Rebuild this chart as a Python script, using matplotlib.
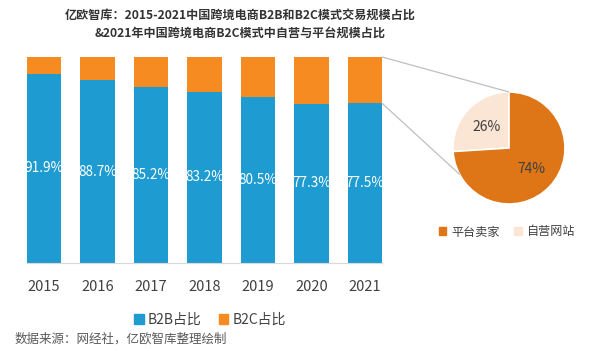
import matplotlib
matplotlib.use("Agg")
import matplotlib.pyplot as plt
from matplotlib.patches import ConnectionPatch, Patch
import numpy as np

plt.rcParams['font.family'] = ['Noto Sans CJK SC', 'DejaVu Sans']

# Data
years = ["2015", "2016", "2017", "2018", "2019", "2020", "2021"]
b2b = [91.9, 88.7, 85.2, 83.2, 80.5, 77.3, 77.5]
b2c = [100 - v for v in b2b]
pie_labels = ["自营网站", "平台卖家"]
pie_values = [26, 74]

blue = "#1E9BD0"
orange = "#F68B22"
pie_dark = "#DE7516"
pie_light = "#FBE5D4"
text_col = "#404040"

fig = plt.figure(figsize=(6, 3.51), dpi=100)

# Bar chart
ax = fig.add_axes([17.25 / 600, 0.2507, 374.5 / 600, 0.5869])
x = np.arange(len(years))
width = 0.64
ax.bar(x, b2b, width, color=blue, label="B2B占比")
ax.bar(x, b2c, width, bottom=b2b, color=orange, label="B2C占比")
for xi, v in zip(x, b2b):
    ax.text(xi, v / 2, f"{v}%", ha="center", va="center", color="white", fontsize=9.8)
ax.set_xlim(-0.5, len(years) - 0.5)
ax.set_ylim(0, 100)
ax.set_xticks(x)
ax.set_xticklabels(years, fontsize=10.5, color=text_col)
ax.tick_params(axis="x", length=0, pad=12)
ax.set_yticks([])
for s in ["top", "left", "right"]:
    ax.spines[s].set_visible(False)
ax.spines["bottom"].set_color("#D9D9D9")
ax.spines["bottom"].set_bounds(-width / 2, len(years) - 1 + width / 2)

# Pie chart
pax = fig.add_axes([453 / 600, (351 - 204) / 351, 112 / 600, 112 / 351])
wedges, texts = pax.pie(pie_values, colors=[pie_light, pie_dark], startangle=90,
                        counterclock=True, labels=None,
                        wedgeprops=dict(edgecolor="white", linewidth=1.2))
pax.set_aspect("equal")
pax.set_xlim(-1, 1)
pax.set_ylim(-1, 1)
for w, v in zip(wedges, pie_values):
    ang = np.deg2rad((w.theta1 + w.theta2) / 2)
    r = 0.55
    pax.text(r * np.cos(ang), r * np.sin(ang), f"{v}%", ha="center", va="center",
             fontsize=10, color=text_col)

# Connection lines
last = len(years) - 1 + width / 2
a208 = np.deg2rad(208)
for ya, pxy in [(100, (0, 1)), (b2b[-1], (np.cos(a208), np.sin(a208)))]:
    con = ConnectionPatch(xyA=(last, ya), coordsA=ax.transData,
                          xyB=pxy, coordsB=pax.transData,
                          color="#BFBFBF", linewidth=0.9)
    fig.add_artist(con)

# Legends
fig.legend(handles=[Patch(color=blue, label="B2B占比"), Patch(color=orange, label="B2C占比")],
           loc="center", bbox_to_anchor=(210 / 600, 1 - 320 / 351), ncol=2, frameon=False,
           fontsize=10, handlelength=0.7, handleheight=0.7, handletextpad=0.3,
           columnspacing=1.2, labelcolor=text_col)
fig.legend(handles=[Patch(color=pie_dark, label="平台卖家"), Patch(color=pie_light, label="自营网站")],
           loc="center", bbox_to_anchor=(507 / 600, 1 - 232 / 351), ncol=2, frameon=False,
           fontsize=8.7, handlelength=0.6, handleheight=0.6, handletextpad=0.4,
           columnspacing=1.2, labelcolor=text_col)

# Title and source
fig.text(240 / 600, 1 - 15 / 351, "亿欧智库：2015-2021中国跨境电商B2B和B2C模式交易规模占比",
         ha="center", va="center", fontsize=8.7, fontweight="bold", color="#333333")
fig.text(240 / 600, 1 - 33 / 351, "&2021年中国跨境电商B2C模式中自营与平台规模占比",
         ha="center", va="center", fontsize=8.7, fontweight="bold", color="#333333")
fig.text(15 / 600, 1 - 339 / 351, "数据来源：网经社，亿欧智库整理绘制",
         ha="left", va="center", fontsize=9, color="#595959")

fig.savefig("out.png", dpi=100)
